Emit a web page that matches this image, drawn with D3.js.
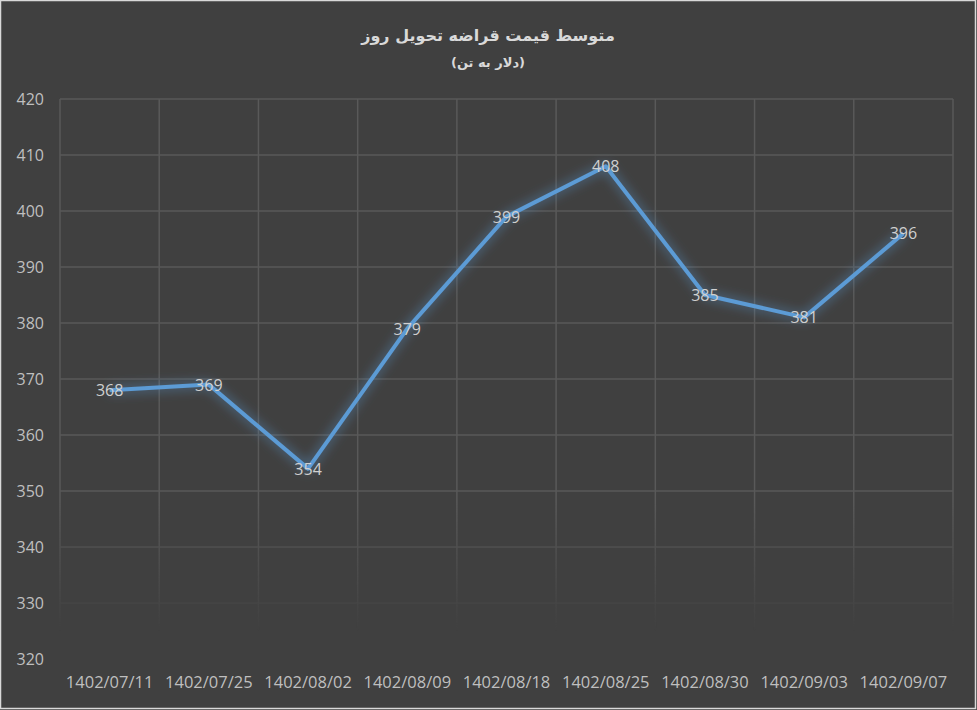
<!DOCTYPE html>
<html><head><meta charset="utf-8">
<script src="https://cdn.jsdelivr.net/npm/d3@7"></script>
<style>html,body{margin:0;padding:0;background:#404040;overflow:hidden}</style>
</head><body>
<svg id="c" width="977" height="710"></svg>
<script>
const categories = ["1402/07/11","1402/07/25","1402/08/02","1402/08/09","1402/08/18","1402/08/25","1402/08/30","1402/09/03","1402/09/07"];
const values = [368, 369, 354, 379, 399, 408, 385, 381, 396];
const yTicks = [320,330,340,350,360,370,380,390,400,410,420];
const title = "متوسط قیمت قراضه تحویل روز";
const subtitle = "(دلار به تن)";

const W = 977, H = 710;
const m = {left:60, right:24, top:99, bottom:51};
const svg = d3.select("#c");
svg.append("rect").attr("x",0.5).attr("y",0.5).attr("width",W-2).attr("height",H-2)
  .attr("fill","#404040").attr("stroke","#d9d9d9").attr("stroke-width",1.5);

const defs = svg.append("defs");
const glow = defs.append("filter").attr("id","glow").attr("x","-20%").attr("y","-20%").attr("width","140%").attr("height","140%");
glow.append("feGaussianBlur").attr("in","SourceGraphic").attr("stdDeviation",6).attr("result","b");
glow.append("feComponentTransfer").attr("in","b").attr("result","b2")
  .append("feFuncA").attr("type","linear").attr("slope",0.8);
const fm = glow.append("feMerge");
fm.append("feMergeNode").attr("in","b2");
fm.append("feMergeNode").attr("in","SourceGraphic");

const grad = defs.append("linearGradient").attr("id","fade").attr("gradientUnits","userSpaceOnUse")
  .attr("x1",0).attr("y1",m.top).attr("x2",0).attr("y2",H-m.bottom);
grad.append("stop").attr("offset","0.72").attr("stop-color","#fff").attr("stop-opacity",1);
grad.append("stop").attr("offset","0.95").attr("stop-color","#fff").attr("stop-opacity",0);
defs.append("mask").attr("id","gm").attr("maskUnits","userSpaceOnUse")
  .attr("x",0).attr("y",0).attr("width",W).attr("height",H)
  .append("rect").attr("x",0).attr("y",0).attr("width",W).attr("height",H).attr("fill","url(#fade)");

const x = d3.scaleBand().domain(categories).range([m.left, W-m.right]);
const y = d3.scaleLinear().domain([320,420]).range([H-m.bottom, m.top]);

const grid = svg.append("g").attr("mask","url(#gm)");
grid.selectAll("line.h").data(yTicks).join("line")
  .attr("x1",m.left).attr("x2",W-m.right).attr("y1",d=>y(d)).attr("y2",d=>y(d))
  .attr("stroke","#595959").attr("stroke-width",1.5);
const vb = categories.map(c=>x(c)).concat([x(categories[categories.length-1])+x.bandwidth()]);
grid.selectAll("line.v").data(vb).join("line")
  .attr("x1",d=>d).attr("x2",d=>d).attr("y1",m.top).attr("y2",H-m.bottom)
  .attr("stroke","#595959").attr("stroke-width",1.5);

const font = "'Open Sans', 'DejaVu Sans', sans-serif";
const yAxis = d3.axisLeft(y).tickValues(yTicks).tickSize(0).tickPadding(16);
const ya = svg.append("g").attr("transform",`translate(${m.left},0)`).call(yAxis);
ya.select(".domain").remove();
ya.selectAll("text").attr("fill","#bfbfbf").style("font-family",font).style("font-size","16px");

const xAxis = d3.axisBottom(x).tickSize(0).tickPadding(17);
const xa = svg.append("g").attr("transform",`translate(0,${H-m.bottom})`).call(xAxis);
xa.select(".domain").remove();
xa.selectAll("text").attr("fill","#bfbfbf").style("font-family",font).style("font-size","16.5px");

const cx = d=>x(d)+x.bandwidth()/2;
const line = d3.line().x((d,i)=>cx(categories[i])).y(d=>y(d));
svg.append("path").datum(values).attr("d",line).attr("fill","none")
  .attr("stroke","#5b9bd5").attr("stroke-width",4).attr("stroke-linejoin","round")
  .attr("filter","url(#glow)");

svg.selectAll("text.lbl").data(values).join("text").attr("class","lbl")
  .attr("x",(d,i)=>cx(categories[i])).attr("y",d=>y(d)).attr("dy","0.38em")
  .attr("text-anchor","middle").attr("fill","#d0d0d0")
  .style("font-family",font).style("font-size","16px")
  .text(d=>d);

svg.append("text").attr("x",488).attr("y",41).attr("text-anchor","middle")
  .attr("fill","#d9d9d9").style("font-family","'DejaVu Sans', 'Noto Sans', sans-serif")
  .style("font-weight","bold").style("font-size","16px").attr("direction","rtl").text(title);
svg.append("text").attr("x",488).attr("y",67).attr("text-anchor","middle")
  .attr("fill","#d9d9d9").style("font-family","'DejaVu Sans', 'Noto Sans', sans-serif")
  .style("font-weight","bold").style("font-size","13px").attr("direction","rtl").text(subtitle);
</script>
</body></html>
